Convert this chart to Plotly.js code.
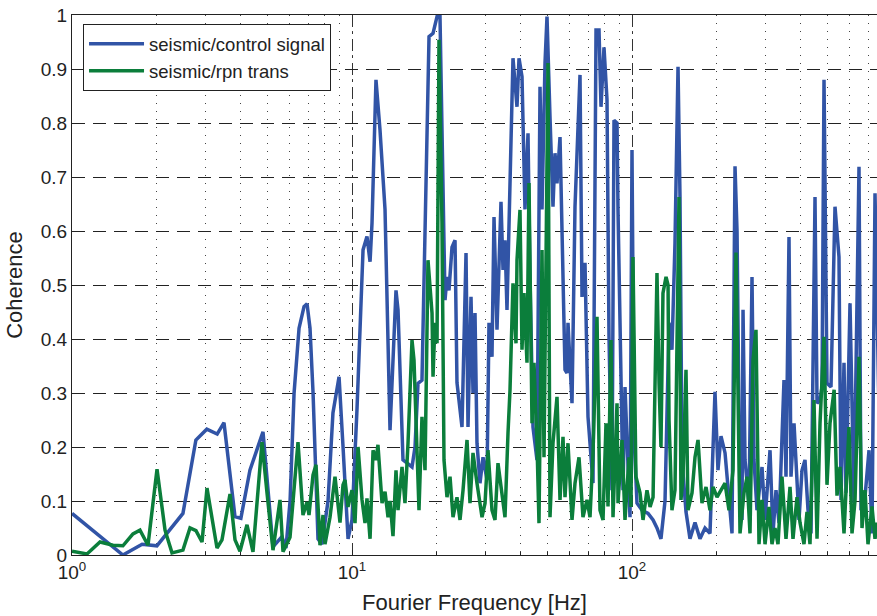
<!DOCTYPE html>
<html><head><meta charset="utf-8">
<script src="https://cdn.plot.ly/plotly-3.0.1.min.js"></script>
<style>html,body{margin:0;padding:0;background:#fff;overflow:hidden}</style>
</head><body><div id="chart" style="width:877px;height:616px"></div>
<script>
// seismic/control signal
const freqControl = [1.00,1.52,1.78,2.01,2.49,2.77,3.03,3.30,3.49,3.82,4.01,4.32,4.81,5.22,5.62,5.81,6.01,6.21,6.47,6.74,6.91,7.08,7.26,7.44,7.56,7.81,8.21,8.55,8.99,9.29,9.68,
10.0,10.42,10.95,11.31,11.60,11.79,12.18,12.59,13.12,13.67,14.36,14.60,15.21,16.38,16.79,17.21,17.78,18.23,18.84,19.47,20.12,20.62,21.14,21.49,21.84,22.20,22.76,23.33,23.71,24.71,25.54,25.96,26.61,27.05,27.50,27.95,28.65,29.37,30.35,30.85,31.62,32.15,32.95,34.05,34.62,35.19,35.77,36.67,37.58,38.84,39.49,40.47,41.48,42.52,43.22,44.30,45.78,46.93,47.71,48.90,49.71,50.95,52.22,53.09,53.97,55.32,56.70,57.64,58.60,59.08,61.06,62.58,65.21,66.29,67.94,69.64,72.56,74.38,76.24,77.50,79.43,81.42,82.77,84.83,86.24,88.40,89.13,91.35,92.87,94.41,95.98,98.37,
100.0,101.7,104.2,108.6,114.1,118.9,122.8,126.9,131.2,135.6,138.9,142.4,146.0,148.4,150.9,155.9,161.1,167.9,174.9,182.3,189.9,197.9,202.8,207.9,214.9,220.2,227.6,233.3,237.2,243.1,247.1,249.2,253.3,261.7,268.3,272.7,279.5,291.3,298.6,311.1,318.8,326.8,335.0,349.0,354.8,363.7,369.7,379.0,385.2,394.9,404.7,414.8,425.2,435.8,450.4,457.9,469.3,477.1,485.0,497.1,513.7,530.9,548.6,557.7,571.7,581.1,600.6,620.7,646.7,657.5,679.4,702.2,719.7,737.7,760.0];
const cohControl = [0.077,0.0,0.02,0.017,0.077,0.213,0.233,0.224,0.245,0.071,0.068,0.157,0.228,0.015,0.034,0.013,0.10,0.30,0.42,0.46,0.465,0.42,0.30,0.12,0.03,0.02,0.10,0.263,0.33,0.2,0.03,
0.065,0.27,0.565,0.59,0.543,0.615,0.88,0.787,0.64,0.231,0.49,0.454,0.176,0.163,0.2,0.318,0.324,0.577,0.96,0.966,0.997,0.997,0.64,0.472,0.515,0.49,0.57,0.583,0.319,0.237,0.559,0.237,0.478,0.3,0.448,0.207,0.133,0.181,0.139,0.43,0.367,0.626,0.417,0.654,0.528,0.583,0.454,0.7,0.92,0.83,0.92,0.886,0.64,0.781,0.515,0.237,0.176,0.867,0.64,0.911,0.997,0.811,0.645,0.744,0.688,0.774,0.541,0.343,0.337,0.43,0.281,0.645,0.889,0.478,0.541,0.256,0.133,0.972,0.972,0.83,0.94,0.843,0.404,0.12,0.805,0.8,0.639,0.33,0.12,0.311,0.207,0.07,
0.75,0.219,0.096,0.083,0.077,0.065,0.05,0.03,0.1,0.43,0.38,0.577,0.904,0.663,0.176,0.08,0.03,0.06,0.03,0.05,0.04,0.302,0.157,0.22,0.189,0.126,0.04,0.72,0.6,0.083,0.065,0.454,0.176,0.096,0.515,0.176,0.083,0.163,0.065,0.194,0.04,0.12,0.059,0.324,0.145,0.589,0.145,0.244,0.17,0.065,0.157,0.176,0.083,0.04,0.663,0.281,0.287,0.311,0.88,0.318,0.311,0.645,0.552,0.102,0.356,0.115,0.466,0.096,0.719,0.083,0.107,0.194,0.04,0.67,0.3];

// seismic/rpn trans
const freqRpn = [1.00,1.131,1.259,1.401,1.52,1.651,1.749,1.868,2.012,2.149,2.276,2.49,2.639,2.772,2.913,3.035,3.295,3.433,3.667,3.821,3.981,4.217,4.430,4.771,4.971,5.222,5.532,5.670,6.006,6.414,6.683,6.907,7.022,7.256,7.438,7.686,7.879,8.009,8.345,8.695,9.060,9.287,9.441,9.677,
10.0,10.25,10.51,10.86,11.13,11.31,11.60,11.89,12.18,12.38,12.80,13.12,13.45,13.67,14.01,14.36,14.60,15.09,15.46,15.85,16.38,16.65,17.35,17.78,18.23,18.68,19.31,19.47,19.79,20.12,20.45,20.96,21.31,21.84,22.39,22.95,23.71,24.31,24.92,25.75,26.39,27.05,27.95,29.13,29.86,30.60,31.62,32.41,33.22,34.33,35.19,36.07,36.67,37.58,38.52,38.84,39.81,40.47,41.14,42.17,42.87,43.94,44.67,45.78,46.54,47.71,48.50,50.12,50.95,52.22,53.97,55.32,56.70,57.64,59.08,61.06,62.58,64.67,66.83,69.07,70.80,72.56,74.99,76.86,78.79,80.75,82.09,84.14,85.54,88.40,89.13,92.11,94.41,97.57,99.19,
100.8,103.3,106.8,109.5,113.1,116.0,118.9,122.8,124.9,126.9,129.0,132.3,134.5,135.6,138.9,142.4,147.2,149.6,152.1,155.9,158.5,163.8,167.9,172.1,177.8,183.8,189.9,194.7,201.2,207.9,214.9,222.0,229.5,235.2,239.1,243.1,251.2,257.5,263.9,270.5,277.2,284.2,291.3,298.6,308.5,316.2,324.1,332.2,343.3,354.8,366.7,375.8,388.4,398.1,411.4,421.7,432.2,446.7,457.9,469.3,485.0,497.1,509.5,527.1,539.7,553.2,571.7,595.7,610.6,625.8,646.7,662.9,679.4,696.4,719.7,737.7,749.9];
const cohRpn = [0.007,0.002,0.024,0.018,0.017,0.039,0.046,0.018,0.159,0.046,0.004,0.009,0.05,0.045,0.024,0.124,0.013,0.028,0.113,0.028,0.007,0.056,0.006,0.209,0.115,0.009,0.102,0.006,0.033,0.209,0.074,0.098,0.074,0.148,0.167,0.018,0.074,0.02,0.07,0.145,0.06,0.13,0.139,0.089,
0.12,0.059,0.2,0.102,0.059,0.105,0.03,0.194,0.176,0.204,0.096,0.117,0.07,0.1,0.035,0.157,0.083,0.163,0.096,0.207,0.398,0.361,0.083,0.256,0.157,0.546,0.448,0.33,0.43,0.392,0.954,0.615,0.176,0.107,0.145,0.07,0.107,0.065,0.12,0.213,0.096,0.189,0.133,0.07,0.096,0.194,0.083,0.065,0.17,0.115,0.07,0.226,0.306,0.503,0.392,0.546,0.639,0.38,0.485,0.356,0.689,0.244,0.356,0.207,0.059,0.565,0.181,0.911,0.07,0.207,0.293,0.102,0.219,0.107,0.207,0.065,0.133,0.181,0.07,0.102,0.07,0.189,0.441,0.083,0.065,0.244,0.09,0.398,0.07,0.281,0.096,0.213,0.065,0.181,0.089,
0.552,0.145,0.115,0.065,0.12,0.089,0.107,0.522,0.318,0.2,0.485,0.515,0.5,0.25,0.083,0.12,0.663,0.102,0.145,0.343,0.083,0.115,0.181,0.213,0.096,0.126,0.083,0.126,0.107,0.12,0.133,0.083,0.157,0.56,0.3,0.04,0.115,0.145,0.04,0.361,0.417,0.02,0.102,0.02,0.089,0.02,0.05,0.02,0.145,0.03,0.126,0.03,0.107,0.06,0.02,0.08,0.02,0.287,0.03,0.244,0.404,0.13,0.244,0.306,0.11,0.163,0.04,0.237,0.04,0.1,0.367,0.05,0.12,0.02,0.09,0.03,0.06];

const seriesNames = ['seismic/control signal', 'seismic/rpn trans'];
const xTickVals = [1, 10, 100];
const xTickText = ['10<sup>0</sup>', '10<sup>1</sup>', '10<sup>2</sup>'];
const yTickVals = [0,0.1,0.2,0.3,0.4,0.5,0.6,0.7,0.8,0.9,1];
const yTickText = ['0','0.1','0.2','0.3','0.4','0.5','0.6','0.7','0.8','0.9','1'];

const font = 'Liberation Sans, Arial, Helvetica, sans-serif';
const traces = [
  {x: freqControl, y: cohControl, name: seriesNames[0], type: 'scatter', mode: 'lines',
   line: {color: '#3154a6', width: 3.5}},
  {x: freqRpn, y: cohRpn, name: seriesNames[1], type: 'scatter', mode: 'lines',
   line: {color: '#0b7e3b', width: 3.5}}
];
const layout = {
  width: 877, height: 616,
  margin: {l: 72, r: 0, t: 15, b: 61},
  paper_bgcolor: '#fff', plot_bgcolor: '#fff',
  font: {family: font, size: 18, color: '#222'},
  showlegend: true,
  legend: {x: 0.0137, y: 0.983, xanchor: 'left', yanchor: 'top',
    bgcolor: '#fff', bordercolor: '#222', borderwidth: 1, itemwidth: 55,
    font: {family: font, size: 18.5, color: '#222'}, tracegroupgap: 0},
  xaxis: {
    type: 'log', range: [0, 2.875],
    tickvals: xTickVals, ticktext: xTickText,
    showline: true, linecolor: '#222', linewidth: 1, mirror: true,
    ticks: 'inside', ticklen: 5, tickcolor: '#222',
    showgrid: true, gridcolor: '#333', gridwidth: 1, griddash: '12px,5px,2px,5px',
    minor: {dtick: 'D1', showgrid: true, gridcolor: '#444', gridwidth: 1, griddash: '1px,7px', ticks: 'inside', ticklen: 3, tickcolor: '#222'},
    zeroline: false,
    tickfont: {family: font, size: 19, color: '#222'},
    title: {text: 'Fourier Frequency [Hz]', font: {family: font, size: 22, color: '#222'}, standoff: 12}
  },
  yaxis: {
    range: [0, 1],
    tickvals: yTickVals, ticktext: yTickText,
    showline: true, linecolor: '#222', linewidth: 1,
    ticks: 'inside', ticklen: 5, tickcolor: '#222',
    showgrid: true, gridcolor: '#222', gridwidth: 1, griddash: '13px,8px',
    zeroline: false,
    tickfont: {family: font, size: 19, color: '#222'},
    title: {text: 'Coherence', font: {family: font, size: 22, color: '#222'}, standoff: 12}
  }
};
Plotly.newPlot('chart', traces, layout, {displayModeBar: false, staticPlot: true});
</script></body></html>
